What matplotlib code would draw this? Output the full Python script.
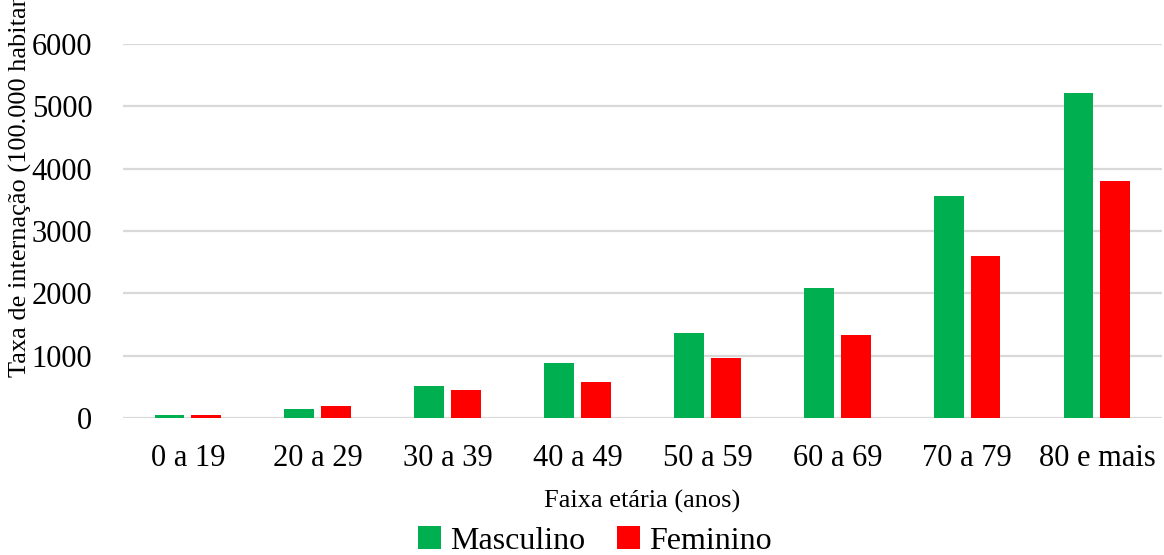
import numpy as np
import matplotlib
matplotlib.use('Agg')
import matplotlib.pyplot as plt

# data
categories = ['0 a 19', '20 a 29', '30 a 39', '40 a 49', '50 a 59', '60 a 69', '70 a 79', '80 e mais']
masculino = [45, 150, 513, 882, 1364, 2086, 3562, 5219]
feminino = [45, 192, 450, 578, 963, 1332, 2599, 3802]

plt.rcParams['font.family'] = ['Liberation Serif', 'DejaVu Serif']

fig = plt.figure(figsize=(11.64, 5.55), dpi=100)
ax = fig.add_axes([0.1057, 0.2468, 0.8925, 0.674])

x = np.arange(len(categories))
w = 0.23
ax.bar(x - 0.142, masculino, w, color='#00B050', label='Masculino', zorder=3)
ax.bar(x + 0.142, feminino, w, color='#FF0000', label='Feminino', zorder=3)

ax.set_xlim(-0.5, len(categories) - 0.5)
ax.set_ylim(0, 6000)
ax.set_yticks(range(0, 6001, 1000))
ax.set_xticks(x)
ax.set_xticklabels(categories)
ax.tick_params(axis='both', length=0, labelsize=22)
ax.tick_params(axis='x', pad=19)
ax.tick_params(axis='y', pad=22)
ax.grid(axis='y', color='#d9d9d9', linewidth=1.6, zorder=0)
for s in ['top', 'right', 'left', 'bottom']:
    ax.spines[s].set_visible(False)

ax.set_xlabel('Faixa etária (anos)', fontsize=19, labelpad=12)

# y label runs off the top edge in the original too
fig.text(20 / 1164, 1 - 377 / 555, 'Taxa de internação (100.000 habitantes)',
         rotation=90, fontsize=19, ha='center', va='bottom')

fig.legend(loc='center', bbox_to_anchor=(595 / 1164, 1 - 541 / 555), ncol=2,
           frameon=False, fontsize=23, handlelength=0.7, handleheight=0.7,
           handletextpad=0.3, columnspacing=1.0)

fig.savefig('out.png', dpi=100)
